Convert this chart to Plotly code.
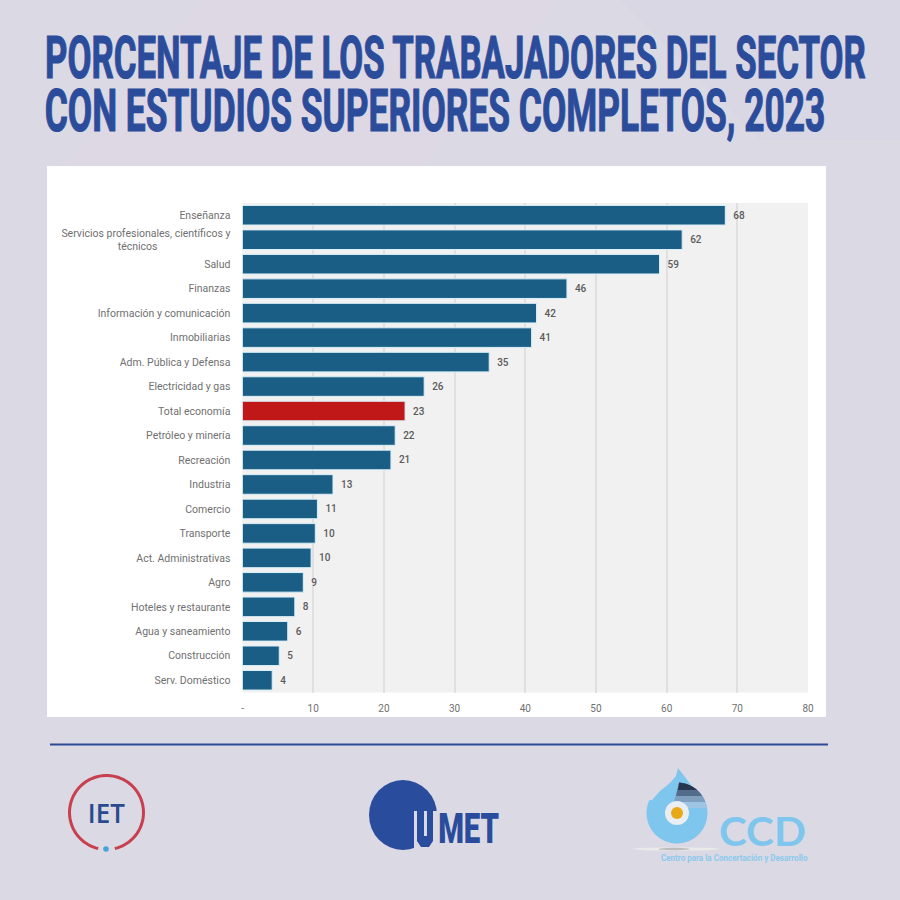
import numpy as np
import plotly.graph_objects as go

# Datos
sectores = [
    "Enseñanza", "Servicios profesionales, científicos y<br>técnicos\u00a0\u00a0\u00a0\u00a0\u00a0\u00a0\u00a0\u00a0\u00a0\u00a0\u00a0\u00a0\u00a0\u00a0\u00a0\u00a0\u00a0\u00a0\u00a0\u00a0\u00a0\u00a0\u00a0\u00a0\u00a0\u00a0\u00a0\u00a0",
    "Salud", "Finanzas", "Información y comunicación", "Inmobiliarias",
    "Adm. Pública y Defensa", "Electricidad y gas", "Total economía",
    "Petróleo y minería", "Recreación", "Industria", "Comercio", "Transporte",
    "Act. Administrativas", "Agro", "Hoteles y restaurante",
    "Agua y saneamiento", "Construcción", "Serv. Doméstico",
]
valores = [68.3, 62.2, 59.0, 45.9, 41.6, 40.9, 34.9, 25.7, 23.0, 21.6, 21.0,
           12.8, 10.6, 10.3, 9.7, 8.6, 7.4, 6.4, 5.2, 4.2]
etiquetas = ["68", "62", "59", "46", "42", "41", "35", "26", "23", "22", "21",
             "13", "11", "10", "10", "9", "8", "6", "5", "4"]
ticks_x = [0, 10, 20, 30, 40, 50, 60, 70, 80]
ticks_x_texto = ["-", "10", "20", "30", "40", "50", "60", "70", "80"]

FONDO = "#dbd9e4"
AZUL_TITULO = "#2b4c9b"
AZUL_BARRA = "#1a5e85"
ROJO = "#c01818"
CELESTE = "#7fc6ee"
GRIS = "#707070"


def pt(x, y):
    return f"{x / 900:.5f},{1 - y / 900:.5f}"


def poly(puntos, cerrar=True):
    s = "M" + " L".join(pt(x, y) for x, y in puntos)
    return s + (" Z" if cerrar else "")


def arco(cx, cy, r, a0, a1, n=80):
    # angulos en grados, sentido horario en pantalla
    a = np.radians(np.linspace(a0, a1, n))
    return list(zip(cx + r * np.cos(a), cy + r * np.sin(a)))


def caja(x0, y0, x1, y1, color, **kw):
    return dict(type="rect", xref="paper", yref="paper", x0=x0 / 900, x1=x1 / 900,
                y0=1 - y0 / 900, y1=1 - y1 / 900, fillcolor=color,
                line=dict(width=0), **kw)


def circulo(cx, cy, rx, ry, color, **kw):
    return dict(type="circle", xref="paper", yref="paper", x0=(cx - rx) / 900, x1=(cx + rx) / 900,
                y0=1 - (cy - ry) / 900, y1=1 - (cy + ry) / 900, fillcolor=color,
                line=dict(width=0), **kw)


def forma(puntos, color, **kw):
    return dict(type="path", xref="paper", yref="paper", path=poly(puntos), fillcolor=color,
                line=dict(width=0), **kw)


def texto(s, x, y, size, color, family, weight=400):
    return dict(text=s, x=x / 900, y=1 - y / 900, xref="paper", yref="paper", showarrow=False,
                xanchor="center", yanchor="middle",
                font=dict(size=size, color=color, family=family, weight=weight))


colores = [ROJO if s == "Total economía" else AZUL_BARRA for s in sectores]

fig = go.Figure(go.Bar(
    y=sectores, x=valores, orientation="h", marker=dict(color=colores, line=dict(color="#d8f0f8", width=1)),
    text=["\u00a0\u00a0" + e for e in etiquetas], textposition="outside", cliponaxis=False,
    textfont=dict(family="Roboto", size=10, color="#5a5a5a", weight=500),
    hoverinfo="skip",
))

shapes = [
    # textura suave del fondo
    forma([(200, 0), (560, 0), (420, 170), (60, 170)], "rgba(226,214,226,0.25)", layer="below"),
    forma([(620, 0), (900, 0), (900, 140), (760, 140)], "rgba(210,208,224,0.2)", layer="below"),
    caja(47, 166, 826, 717, "#ffffff", layer="below"),
    caja(242.5, 203, 808, 692.5, "#f1f1f1", layer="below"),
    # linea separadora
    dict(type="line", xref="paper", yref="paper", x0=50 / 900, x1=828 / 900, y0=1 - 744.5 / 900, y1=1 - 744.5 / 900,
         line=dict(color="#2c4a94", width=2)),
    # logo IET
    dict(type="path", xref="paper", yref="paper", path=poly(arco(106.5, 812.5, 37, 103, 437), cerrar=False),
         line=dict(color="#c8404f", width=3)),
    circulo(106, 849, 2.8, 2.8, "#45a5d8"),
    # logo UMET
    circulo(403, 815, 34, 35, "#2a4c9c"),
    caja(414, 811, 440, 852, FONDO),
    forma([(417, 811), (424, 811), (424, 836), (427, 836), (427, 811), (433, 811), (433, 841),
           (429, 847), (421, 847), (417, 841)], "#2a4c9c"),
    # logo CCD
    forma([(678, 768), (676, 776), (670, 783), (660, 791), (652, 800)] + arco(677, 813, 30.5, 205, -60),
          CELESTE),
]
# sombra de la gota, de clara a oscura hacia arriba
for y_corte, x_pliegue, color in [(808, 674, "#9cc6e4"), (802, 674, "#7f9fbe"), (796, 676, "#536c8c"), (790, 678, "#26364f")]:
    fin = np.degrees(np.arcsin((y_corte - 813) / 30.5))
    shapes.append(forma(arco(677, 813, 30.5, -86, fin, 30) + [(x_pliegue, y_corte)], color))
shapes += [
    circulo(677, 813, 12, 12, "#e9eef2"),
    circulo(677, 813, 6, 6, "#e8a917"),
    circulo(676, 849, 44, 1.6, "rgba(235,235,235,0.9)"),
    circulo(674, 849, 16, 1.2, "rgba(150,150,150,0.55)"),
]

annotations = [
    texto("PORCENTAJE DE LOS TRABAJADORES DEL SECTOR", 455, 57, 60, AZUL_TITULO, "Roboto", 700),
    texto("CON ESTUDIOS SUPERIORES COMPLETOS, 2023", 435, 110, 60, AZUL_TITULO, "Roboto", 700),
    texto("IET", 106.5, 812, 27, "#2a4a8e", "Open Sans", 600),
    texto("MET", 468, 828, 42, "#2a4c9c", "Roboto", 900),
    texto("CCD", 762, 830, 41, CELESTE, "Lato", 700),
    texto("Centro para la Concertación y Desarrollo", 734, 858, 8.5, "#8ccaec", "Roboto", 700),
]

fig.update_layout(
    width=900, height=900, margin=dict(l=0, r=0, t=0, b=0, autoexpand=False), showlegend=False,
    paper_bgcolor=FONDO, plot_bgcolor="#f1f1f1", bargap=0.2,
    shapes=shapes, annotations=annotations,
    xaxis=dict(domain=[242.5 / 900, 808 / 900], range=[0, 80], tickmode="array", tickvals=ticks_x,
               ticktext=ticks_x_texto, showgrid=True, gridcolor="#e0e0e0", gridwidth=2, zeroline=False,
               ticks="outside", ticklen=6, tickcolor="rgba(0,0,0,0)",
               tickfont=dict(family="Roboto", size=10, color=GRIS)),
    yaxis=dict(domain=[1 - 692.5 / 900, 1 - 203 / 900], autorange="reversed", showgrid=False, zeroline=False,
               ticks="outside", ticklen=9, tickcolor="rgba(0,0,0,0)",
               tickfont=dict(family="Roboto", size=10.5, color=GRIS)),
)

# comprime los textos anchos a la medida del original
post = """
document.body.style.margin = '0';
var anchos = {'PORCENTAJE': 821, 'CON ESTUDIOS': 781, 'MET': 61, 'CCD': 87, 'IET': 37, 'Centro para': 147};
document.querySelectorAll('.annotation-text').forEach(function (t) {
  Object.keys(anchos).forEach(function (k) {
    if (t.textContent.indexOf(k) === 0) {
      var b = t.getBBox();
      var cx = b.x + b.width / 2;
      var sx = anchos[k] / b.width;
      t.setAttribute('transform', 'translate(' + cx + ',0) scale(' + sx + ',1) translate(' + (-cx) + ',0)');
      if (anchos[k] > 700) { t.style.stroke = '#2b4c9b'; t.style.strokeWidth = '1.2px'; }
    }
  });
});
"""
fig.write_html("out.html", post_script=post, config=dict(displayModeBar=False))
